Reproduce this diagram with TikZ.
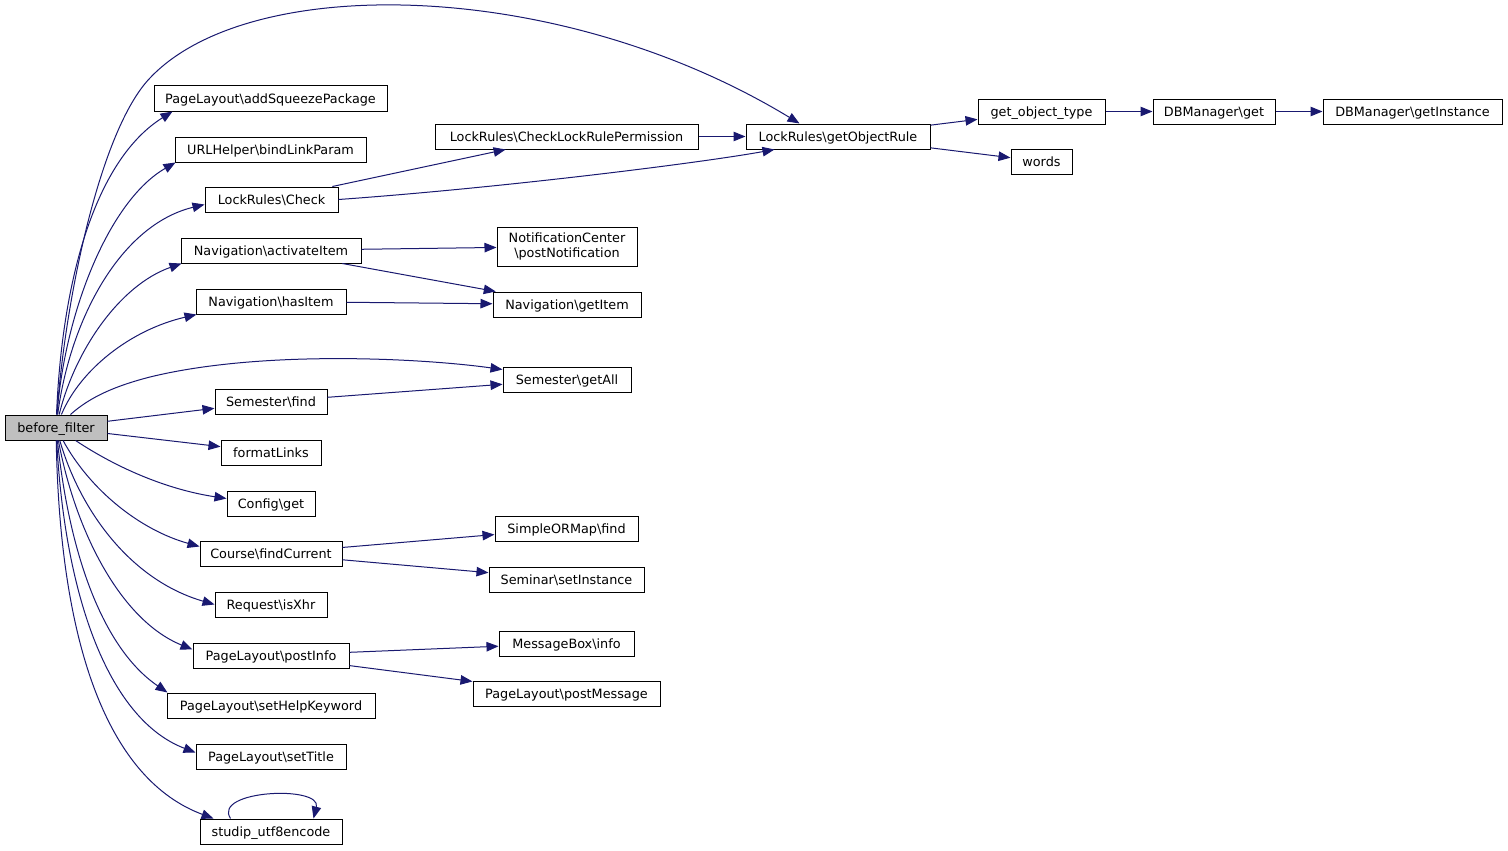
\documentclass[tikz,border=0pt]{standalone}
\usepackage{fontspec}
\setmainfont{DejaVu Sans}
\usetikzlibrary{arrows.meta,calc}
\definecolor{edgeblue}{HTML}{191970}
\definecolor{rootgray}{HTML}{BFBFBF}
\begin{document}
\begin{tikzpicture}[x=1pt,y=-1pt,
  fnbase/.style={draw=black,line width=1pt,fill=white,minimum height=25pt,inner xsep=2pt,inner ysep=0pt,
    font=\fontsize{12.8}{15}\selectfont,align=center,anchor=center},
  fn/.style={fnbase,text height=9.6pt,text depth=0pt},
  edge/.style={draw=edgeblue,line width=1pt,-{Triangle[length=12pt,width=9.5pt]}}]
\useasboundingbox (0,0) rectangle (1508,851);
\fill[white] (0,0) rectangle (1508,851);
% nodes
\node[fn,fill=rootgray,minimum width=102pt] (bf) at (56,427.5) {before\_filter};
\node[fn,minimum width=233pt] (asp) at (270.5,98.5) {PageLayout\textbackslash addSqueezePackage};
\node[fn,minimum width=191pt] (blp) at (270.5,149.5) {URLHelper\textbackslash bindLinkParam};
\node[fn,minimum width=133pt] (lrc) at (271.5,199.5) {LockRules\textbackslash Check};
\node[fn,minimum width=180pt] (act) at (271,250.5) {Navigation\textbackslash activateItem};
\node[fn,minimum width=150pt] (has) at (271,301.5) {Navigation\textbackslash hasItem};
\node[fn,minimum width=112pt] (sfind) at (271,401.5) {Semester\textbackslash find};
\node[fn,minimum width=100pt] (fmt) at (271,452.5) {formatLinks};
\node[fn,minimum width=88pt] (cfg) at (271,503.5) {Config\textbackslash get};
\node[fn,minimum width=142pt] (cfc) at (271,553.5) {Course\textbackslash findCurrent};
\node[fn,minimum width=112pt] (xhr) at (271,604.5) {Request\textbackslash isXhr};
\node[fn,minimum width=156pt] (pinfo) at (271,655.5) {PageLayout\textbackslash postInfo};
\node[fn,minimum width=208pt] (shk) at (271,705.5) {PageLayout\textbackslash setHelpKeyword};
\node[fn,minimum width=150pt] (stitle) at (271,756.5) {PageLayout\textbackslash setTitle};
\node[fn,minimum width=142pt] (utf) at (271,831.5) {studip\_utf8encode};
\node[fn,minimum width=263pt] (clrp) at (566.5,136.5) {LockRules\textbackslash CheckLockRulePermission};
\node[fn,minimum width=184pt] (gor) at (838,136.5) {LockRules\textbackslash getObjectRule};
\node[fn,minimum width=127pt] (got) at (1041.5,111.5) {get\_object\_type};
\node[fn,minimum width=61pt] (words) at (1041.5,161.5) {words};
\node[fn,minimum width=122pt] (dbg) at (1214,111.5) {DBManager\textbackslash get};
\node[fn,minimum width=179pt] (dbi) at (1412.5,111.5) {DBManager\textbackslash getInstance};
\node[fnbase,minimum width=140pt,minimum height=39pt] (pn) at (567,246.5) {NotificationCenter\\\textbackslash postNotification};
\node[fn,minimum width=148pt] (gi) at (567,304.5) {Navigation\textbackslash getItem};
\node[fn,minimum width=128pt] (ga) at (567,379.5) {Semester\textbackslash getAll};
\node[fn,minimum width=143pt] (som) at (566.5,528.5) {SimpleORMap\textbackslash find};
\node[fn,minimum width=155pt] (ssi) at (566.5,579.5) {Seminar\textbackslash setInstance};
\node[fn,minimum width=135pt] (mbi) at (566.5,643.5) {MessageBox\textbackslash info};
\node[fn,minimum width=187pt] (pm) at (566.5,693.5) {PageLayout\textbackslash postMessage};
% connectors from before_filter (upper fan)
\coordinate (arcmid) at (150,78);
\coordinate (gamid) at (150,377);
\draw[edge] (bf) .. controls (65,300) and (100,130) .. (arcmid) .. controls (250,-28) and (560,-22) .. ($(gor.north west)+(54,0)$);
\draw[edge] (bf) .. controls (62,280) and (95,160) .. ($(asp.south west)+(19,0)$);
\draw[edge] (bf) .. controls (65,310) and (110,200) .. ($(blp.south west)+(1,0)$);
\draw[edge] (bf) .. controls (70,320) and (120,225) .. ($(lrc.west)+(0,5)$);
\draw[edge] (bf) .. controls (75,350) and (120,285) .. ($(act.south west)+(1,0)$);
\draw[edge] (bf) .. controls (80,370) and (130,330) .. ($(has.south west)+(1,0)$);
\draw[edge] (bf) .. controls (90,397) and (115,386) .. (gamid) .. controls (260,350) and (420,358) .. ($(ga.north west)+(0,3)$);
\draw[edge] (bf) -- (sfind);
\draw[edge] (bf) -- (fmt);
% lower fan
\draw[edge] (bf) .. controls (120,470) and (170,490) .. ($(cfg.west)+(0,-5)$);
\draw[edge] (bf) .. controls (90,490) and (140,530) .. ($(cfc.north west)+(0,6)$);
\draw[edge] (bf) .. controls (80,510) and (130,580) .. (xhr.west);
\draw[edge] (bf) .. controls (75,530) and (120,620) .. ($(pinfo.north west)+(0,7)$);
\draw[edge] (bf) .. controls (70,560) and (105,650) .. ($(shk.north west)+(1,0)$);
\draw[edge] (bf) .. controls (65,600) and (110,720) .. ($(stitle.north west)+(0,9)$);
\draw[edge] (bf) .. controls (60,650) and (110,780) .. ($(utf.north west)+(14,0)$);
% self loop
\draw[edge] ($(utf.north west)+(31,0)$) .. controls (212,790) and (322,785) .. ($(utf.north west)+(114,0)$);
% second level
\draw[edge] (lrc) -- (clrp);
\draw[edge] (lrc.east) .. controls (500,188) and (700,163) .. ($(gor.south west)+(29,0)$);
\draw[edge] (clrp) -- (gor);
\draw[edge] (gor) -- (got);
\draw[edge] (gor) -- (words);
\draw[edge] (got) -- (dbg);
\draw[edge] (dbg) -- (dbi);
\draw[edge] (act) -- (pn);
\draw[edge] (act) -- (gi);
\draw[edge] (has) -- (gi);
\draw[edge] (sfind) -- (ga);
\draw[edge] (cfc) -- (som);
\draw[edge] (cfc) -- (ssi);
\draw[edge] (pinfo) -- (mbi);
\draw[edge] (pinfo) -- (pm);
\end{tikzpicture}
\end{document}
